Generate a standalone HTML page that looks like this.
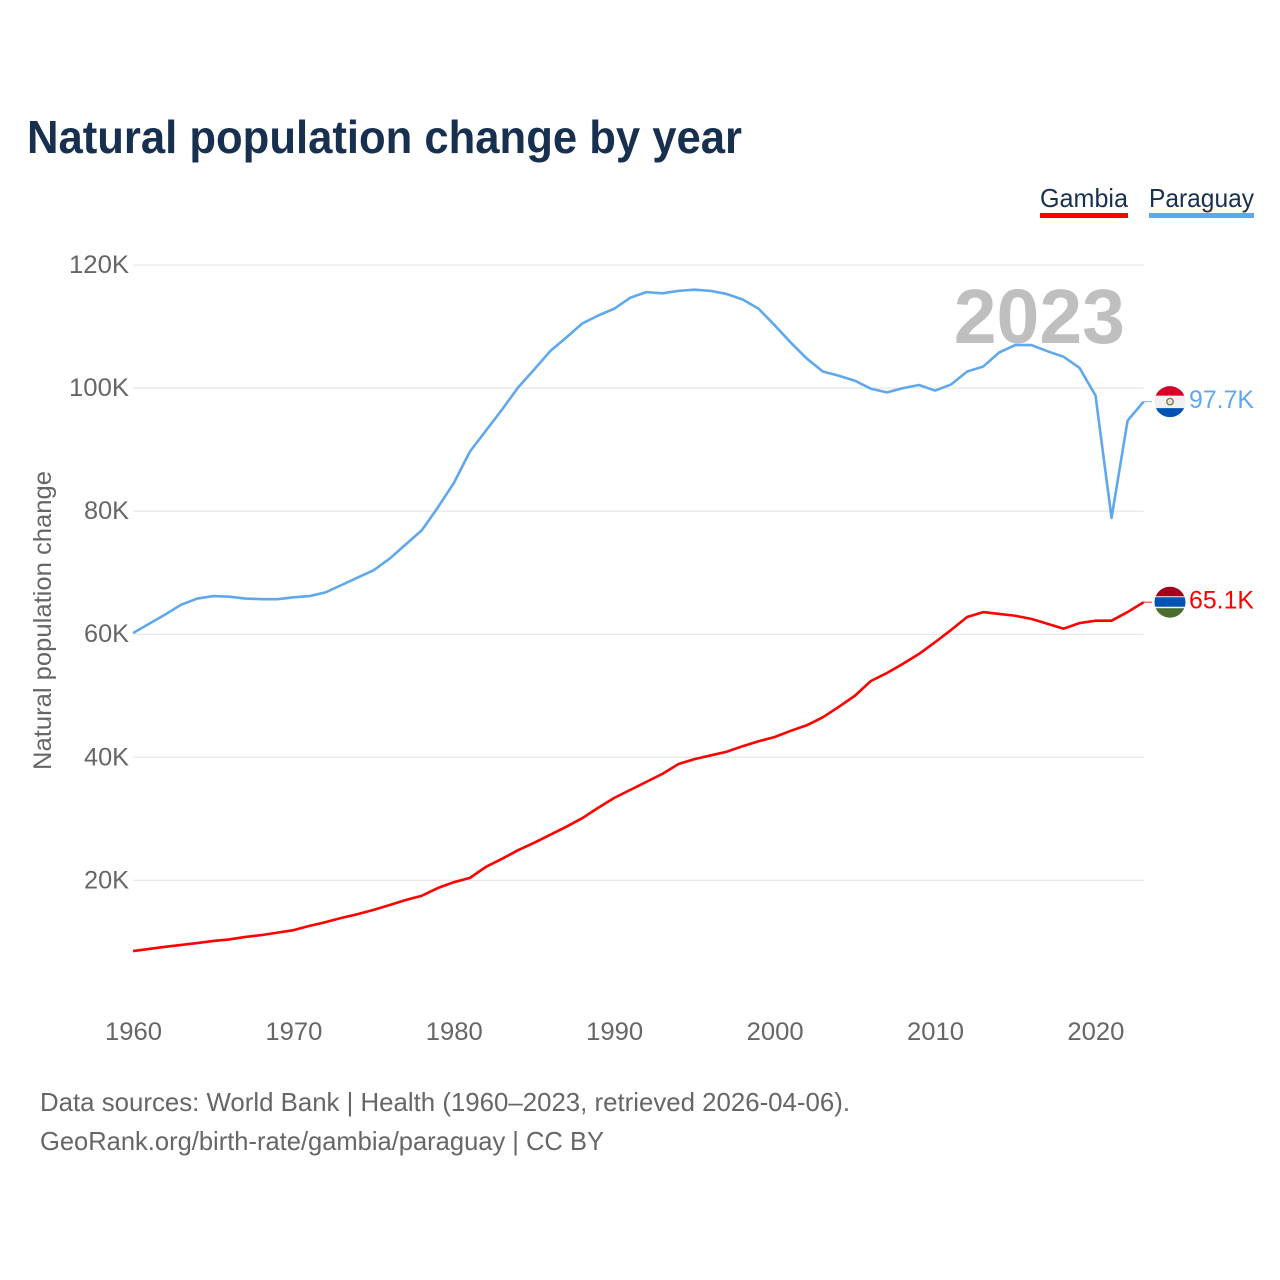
<!DOCTYPE html>
<html lang="en">
<head>
<meta charset="utf-8">
<title>Natural population change by year</title>
<style>
html,body{margin:0;padding:0;background:#fff;width:1280px;height:1280px;overflow:hidden}
svg{display:block;font-family:"Liberation Sans",sans-serif}
</style>
</head>
<body>
<svg id="chart" width="1280" height="1280" viewBox="0 0 1280 1280" xmlns="http://www.w3.org/2000/svg">
  <defs>
    <clipPath id="flag-clip"><circle cx="0" cy="0" r="15.5"/></clipPath>
  </defs>
  <rect width="1280" height="1280" fill="#fff"/>
  <text x="27" y="153" font-size="46" font-weight="700" fill="#18304f" textLength="715" lengthAdjust="spacingAndGlyphs">Natural population change by year</text>

  <g>
    <text x="1040" y="207" font-size="26" fill="#18304f" textLength="88" lengthAdjust="spacingAndGlyphs">Gambia</text>
    <rect x="1040" y="213" width="88" height="5" fill="#ff0000"/>
  </g>
  <g>
    <text x="1149" y="207" font-size="26" fill="#18304f" textLength="105" lengthAdjust="spacingAndGlyphs">Paraguay</text>
    <rect x="1149" y="213" width="105" height="5" fill="#5fa8ee"/>
  </g>

  <text transform="translate(51 770) rotate(-90)" font-size="25" fill="#666" textLength="299" lengthAdjust="spacingAndGlyphs">Natural population change</text>

  <g id="grid"></g>
  <g id="yticks"></g>
  <g id="xticks"></g>

  <text x="1125" y="343" text-anchor="end" font-size="77" font-weight="700" fill="#bfbfbf">2023</text>

  <g id="marks"></g>

  <g id="flag-paraguay">
    <g clip-path="url(#flag-clip)">
      <rect x="-16" y="-16" width="32" height="32" fill="#f0f0f0"/>
      <rect x="-16" y="-16" width="32" height="10" fill="#d80027"/>
      <rect x="-16" y="6.5" width="32" height="10" fill="#0052b4"/>
      <circle cx="0" cy="0" r="3.2" fill="none" stroke="#6b7f45" stroke-width="1.4"/>
      <circle cx="0" cy="0" r="1" fill="#f5b5a5"/>
    </g>
  </g>
  <g id="flag-gambia">
    <g clip-path="url(#flag-clip)">
      <rect x="-16" y="-16" width="32" height="32" fill="#f0f0f0"/>
      <rect x="-16" y="-16" width="32" height="10" fill="#a2001d"/>
      <rect x="-16" y="-5" width="32" height="9.5" fill="#0052b4"/>
      <rect x="-16" y="6" width="32" height="10" fill="#496e2d"/>
    </g>
  </g>
  <text id="label-paraguay" x="1189" font-size="25" fill="#5fa8ee" textLength="65" lengthAdjust="spacingAndGlyphs"></text>
  <text id="label-gambia" x="1189" font-size="25" fill="#ff0000" textLength="65" lengthAdjust="spacingAndGlyphs"></text>

  <text x="40" y="1111" font-size="26" fill="#666" textLength="810" lengthAdjust="spacingAndGlyphs">Data sources: World Bank | Health (1960–2023, retrieved 2026-04-06).</text>
  <text x="40" y="1150" font-size="26" fill="#666" textLength="564" lengthAdjust="spacingAndGlyphs">GeoRank.org/birth-rate/gambia/paraguay | CC BY</text>
</svg>
<script>
const startYear = 1960;
const xTickYears = [1960, 1970, 1980, 1990, 2000, 2010, 2020];
const yTickValues = [20, 40, 60, 80, 100, 120];
const yTickLabels = ["20K", "40K", "60K", "80K", "100K", "120K"];
const paraguayValues = [
  60.2, 61.7, 63.2, 64.8, 65.8, 66.2, 66.1, 65.8, 65.7, 65.7,
  66.0, 66.2, 66.8, 68.0, 69.2, 70.4, 72.3, 74.6, 76.9, 80.6,
  84.6, 89.7, 93.1, 96.5, 100.1, 103.0, 106.0, 108.2, 110.5, 111.8,
  112.9, 114.7, 115.6, 115.4, 115.8, 116.0, 115.8, 115.3, 114.4, 112.9,
  110.2, 107.4, 104.8, 102.7, 102.0, 101.2, 99.9, 99.3, 100.0, 100.5,
  99.6, 100.6, 102.7, 103.5, 105.8, 107.0, 107.0, 106.0, 105.1, 103.3,
  98.8, 78.9, 94.7, 97.8
];
const gambiaValues = [
  8.5, 8.85, 9.2, 9.5, 9.8, 10.15, 10.4, 10.8, 11.1, 11.5,
  11.9, 12.6, 13.2, 13.9, 14.5, 15.2, 16.0, 16.8, 17.5, 18.75,
  19.7, 20.4, 22.2, 23.5, 24.9, 26.1, 27.4, 28.7, 30.1, 31.8,
  33.4, 34.7, 36.0, 37.3, 38.9, 39.7, 40.3, 40.9, 41.8, 42.6,
  43.3, 44.3, 45.2, 46.5, 48.2, 50.0, 52.4, 53.7, 55.2, 56.8,
  58.7, 60.7, 62.8, 63.6, 63.3, 63.0, 62.5, 61.7, 60.9, 61.8,
  62.2, 62.2, 63.6, 65.2
];
const paraguayLabel = "97.7K";
const gambiaLabel = "65.1K";

const NS = "http://www.w3.org/2000/svg";
function xScale(year) { return 133.1 + (year - 1960) * 16.04; }
function yScale(k) { return 1003.4 - k * 6.153; }
function make(tag, parent, attrs) {
  const el = document.createElementNS(NS, tag);
  for (const k in attrs) el.setAttribute(k, attrs[k]);
  parent.appendChild(el);
  return el;
}

const grid = document.getElementById("grid");
const yticks = document.getElementById("yticks");
const xticks = document.getElementById("xticks");
const marks = document.getElementById("marks");

yTickValues.forEach(function (v, i) {
  const line = make("line", grid, {x1: xScale(1960), x2: xScale(2023), y1: yScale(v), y2: yScale(v), stroke: "#e6e6e6", "stroke-width": 1.2});
  
  
  const label = make("text", yticks, {x: 129, y: yScale(v) + 8, "text-anchor": "end", "font-size": 25, fill: "#666", textLength: yTickLabels[i].length * 15, lengthAdjust: "spacingAndGlyphs"});
  
  
  label.textContent = yTickLabels[i];
});

xTickYears.forEach(function (yr) {
  const label = make("text", xticks, {x: xScale(yr) + 0.4, y: 1040, "text-anchor": "middle", "font-size": 25, fill: "#666", textLength: 57, lengthAdjust: "spacingAndGlyphs"});
  
  
  label.textContent = String(yr);
});

function pathFor(values) {
  return values.map(function (v, i) {
    return (i ? "L" : "M") + xScale(startYear + i).toFixed(2) + " " + yScale(v).toFixed(2);
  }).join(" ");
}

const gambiaLine = make("path", marks, {d: pathFor(gambiaValues), fill: "none", stroke: "#ff0000", "stroke-width": 2.6, "stroke-linejoin": "round"});


const paraguayLine = make("path", marks, {d: pathFor(paraguayValues), fill: "none", stroke: "#5fa8ee", "stroke-width": 2.6, "stroke-linejoin": "round"});



function placeEnd(values, color, flagId, labelId, text) {
  const endX = xScale(startYear + values.length - 1);
  const endY = yScale(values[values.length - 1]);
  const conn = make("line", marks, {x1: endX, x2: 1152, y1: endY, y2: endY, stroke: color, "stroke-width": 1.2, opacity: 0.7});
  
  
  document.getElementById(flagId).setAttribute("transform", "translate(1170 " + endY.toFixed(2) + ")");
  const lab = document.getElementById(labelId);
  lab.setAttribute("y", (endY + 6.5).toFixed(2));
  lab.textContent = text;
}
placeEnd(paraguayValues, "#5fa8ee", "flag-paraguay", "label-paraguay", paraguayLabel);
placeEnd(gambiaValues, "#ff0000", "flag-gambia", "label-gambia", gambiaLabel);
</script>
</body>
</html>
